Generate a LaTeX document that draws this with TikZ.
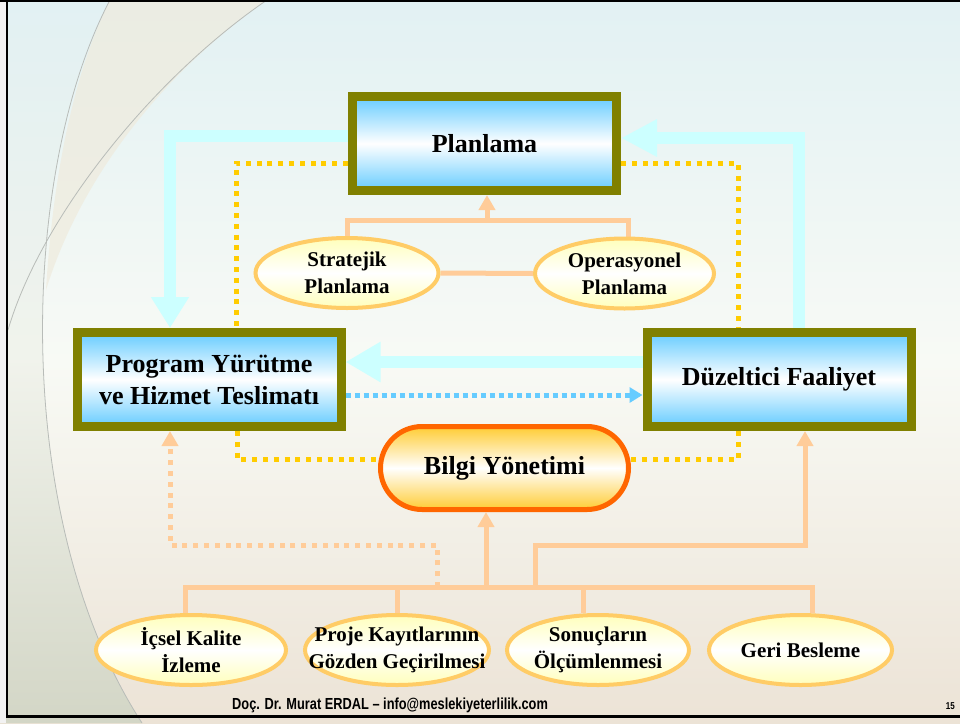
\documentclass[tikz,border=0pt]{standalone}
\usepackage{fontspec}
\setmainfont{Liberation Serif}
\newfontfamily\footfont[FakeStretch=0.8]{Liberation Sans}
\usetikzlibrary{arrows.meta,shapes.geometric,calc}
\definecolor{oliveframe}{HTML}{808000}
\definecolor{boxblue}{HTML}{66CCFF}
\definecolor{cyanarr}{HTML}{CCFFFF}
\definecolor{ydotc}{HTML}{FFCC00}
\definecolor{peach}{HTML}{FFCC99}
\definecolor{ellborder}{HTML}{FFCC66}
\definecolor{ellfill}{HTML}{FFFFBB}
\definecolor{bilgiborder}{HTML}{FF6600}
\definecolor{bilgifill}{HTML}{FFCC33}
\definecolor{bluedot}{HTML}{66CCFF}
\definecolor{bgtop}{HTML}{E2F1F3}
\definecolor{bgmid}{HTML}{F8FAF5}
\definecolor{bgbot}{HTML}{ECE3D6}
\definecolor{arcgray}{HTML}{B8BCB8}
\definecolor{leftgray}{HTML}{D3D6C6}
\definecolor{bandbeige}{HTML}{EFEBDD}
\pgfdeclarelayer{bglayer}
\pgfdeclarelayer{conn}
\pgfsetlayers{bglayer,conn,main}
\begin{document}
\begin{tikzpicture}[x=1pt,y=-1pt,
  box/.style={rectangle, draw=oliveframe, line width=9pt, top color=boxblue, bottom color=boxblue, middle color=white,
    minimum width=264pt, minimum height=94pt, inner sep=0pt, align=center,
    font=\fontsize{26}{32}\selectfont\bfseries},
  ell/.style={ellipse, draw=ellborder, line width=4pt, top color=ellfill, bottom color=ellfill, middle color=white,
    inner sep=0pt, minimum height=70pt},
  elltext/.style={label={[align=center, inner sep=0pt, font=\fontsize{21}{27}\selectfont\bfseries]center:#1}},
  bilgibox/.style={rectangle, rounded corners=41.5pt, draw=bilgiborder, line width=5pt, top color=bilgifill, bottom color=bilgifill, middle color=white,
    minimum width=248pt, minimum height=83pt, inner sep=0pt, font=\fontsize{26}{32}\selectfont\bfseries},
  cyanline/.style={draw=cyanarr, line width=12pt, line join=miter},
  ydot/.style={draw=ydotc, line width=5pt, dash pattern=on 5pt off 5.8pt},
  peachline/.style={draw=peach, line width=5pt},
  peachdot/.style={draw=peach, line width=5pt, dash pattern=on 5pt off 5.8pt},
  peachtip/.style={-{Triangle[length=15pt,width=16pt]}},
]
\useasboundingbox (0,0) rectangle (960,723);
\begin{pgfonlayer}{bglayer}
  \shade[top color=bgtop, bottom color=bgbot, middle color=bgmid] (0,0) rectangle (960,723);
  % region left of the large arc: light at top, grey-green at bottom
  \shade[top color=bgtop, bottom color=leftgray, middle color=bgmid!80!leftgray]
    (110,0) .. controls (20,170) and (10,520) .. (142,723) -- (0,723) -- (0,0) -- cycle;
  % pale band between the two arcs
  \fill[bandbeige, opacity=0.7] (110,0) -- (267,0) .. controls (160,75) and (80,180) .. (46,290)
    .. controls (52,190) and (70,80) .. (110,0) -- cycle;
  \draw[arcgray, line width=0.8pt] (110,0) .. controls (20,170) and (10,520) .. (142,723);
  \draw[arcgray, line width=0.8pt] (267,0) .. controls (150,80) and (40,220) .. (8,330);
  \fill[white!90!gray] (0,0) rectangle (6,723);
  \draw[black, line width=2.5pt] (7,0) -- (7,717);
  \draw[black, line width=2pt] (0,1) -- (960,1);
  \draw[black, line width=3pt] (6,716.5) -- (960,716.5);
\end{pgfonlayer}

% nodes
\node[box] (plan) at (484.5,143.5) {Planlama};
\node[box] (prog) at (209,379.5) {Program Yürütme\\ve Hizmet Teslimatı};
\node[box] (duz) at (779,379.5) {Düzeltici Faaliyet};
\node[bilgibox] (bilgi) at (504.5,468) {Bilgi Yönetimi};
\node[ell, minimum width=183pt, elltext={Stratejik\\Planlama}] (strat) at (347,273) {};
\node[ell, minimum width=179pt, elltext={Operasyonel\\Planlama}] (oper) at (624.5,273.5) {};
\node[ell, minimum width=190pt, elltext={İçsel Kalite\\İzleme}] (icsel) at (191,650) {};
\node[ell, minimum width=184pt, elltext={Proje Kayıtlarının\\Gözden Geçirilmesi}] (proje) at (397,650) {};
\node[ell, minimum width=182pt, elltext={Sonuçların\\Ölçümlenmesi}] (sonuc) at (598,650) {};
\node[ell, minimum width=183pt, elltext={Geri Besleme}] (geri) at (800.5,650) {};

\node[font=\footfont\bfseries\fontsize{16}{16}\selectfont, anchor=base west, inner sep=0pt] (foot) at (232,709) {Doç. Dr. Murat ERDAL – info@meslekiyeterlilik.com};
\node[font=\footfont\bfseries\fontsize{10}{10}\selectfont, anchor=base east, inner sep=0pt] (pgnum) at (955,709) {15};

% connector coordinates
\coordinate (c1) at (170,136);
\coordinate (c2) at (799,138);
\coordinate (y1) at (236,163);
\coordinate (y2) at (738,163);
\coordinate (y3) at (237,459);
\coordinate (y4) at (738,459);
\coordinate (pt) at (487,220);
\coordinate (bt) at (486,587);
\coordinate (dt) at (535,545);
\coordinate (dk) at (805,545);
\coordinate (pd) at (437,545);
\coordinate (pl) at (170,545);

\begin{pgfonlayer}{conn}
  % yellow dotted
  \draw[ydot] (y1 -| plan.west) -- (y1) -- (y1 |- prog.north);
  \draw[ydot] (y2 -| plan.east) -- (y2) -- (y2 |- duz.north);
  \draw[ydot] (y3 |- prog.south) -- (y3) -- (y3 -| bilgi.west);
  \draw[ydot] (y4 |- duz.south) -- (y4) -- (y4 -| bilgi.east);
  % cyan arrows
  \draw[cyanline, -{Triangle[length=31pt,width=36pt]}] (c1 -| plan.west) -- (c1) -- (c1 |- prog.north);
  \draw[cyanline, -{Triangle[length=36pt,width=35pt]}] (c2 |- duz.north) -- (c2) -- (c2 -| plan.east);
  \draw[cyanline, -{Triangle[length=35pt,width=38pt]}] ([yshift=17.5pt]duz.west) -- ([yshift=17.5pt]prog.east);
  % blue dotted
  \draw[draw=bluedot, line width=5pt, dash pattern=on 5pt off 4pt, -{Triangle[length=13pt,width=15pt]}, color=bluedot]
    ([yshift=-15.5pt]prog.east) -- ([yshift=-15.5pt]duz.west);
  % planning tree
  \draw[peachline] (strat.north) -- (strat.north |- pt) -- ([xshift=3.5pt]oper.north |- pt) -- ([xshift=3.5pt]oper.north);
  \draw[peachline, peachtip, color=peach] (pt) -- (pt |- plan.south);
  \draw[peachline] (strat.east) -- (oper.west);
  % bottom tree
  \draw[peachline] ([xshift=-6pt]icsel.north) -- ([xshift=-6pt]icsel.north |- bt) -- ([xshift=11.5pt]geri.north |- bt) -- ([xshift=11.5pt]geri.north);
  \draw[peachline] (proje.north) -- (proje.north |- bt);
  \draw[peachline] ([xshift=-15pt]sonuc.north) -- ([xshift=-15pt]sonuc.north |- bt);
  \draw[peachline, peachtip, color=peach] (bt) -- (bt |- bilgi.south);
  \draw[peachline, peachtip, color=peach] (dt |- bt) -- (dt) -- (dk) -- (dk |- duz.south);
  \draw[peachdot, peachtip, color=peach] (pd |- bt) -- (pd) -- (pl) -- (pl |- prog.south);
\end{pgfonlayer}
\end{tikzpicture}
\end{document}
